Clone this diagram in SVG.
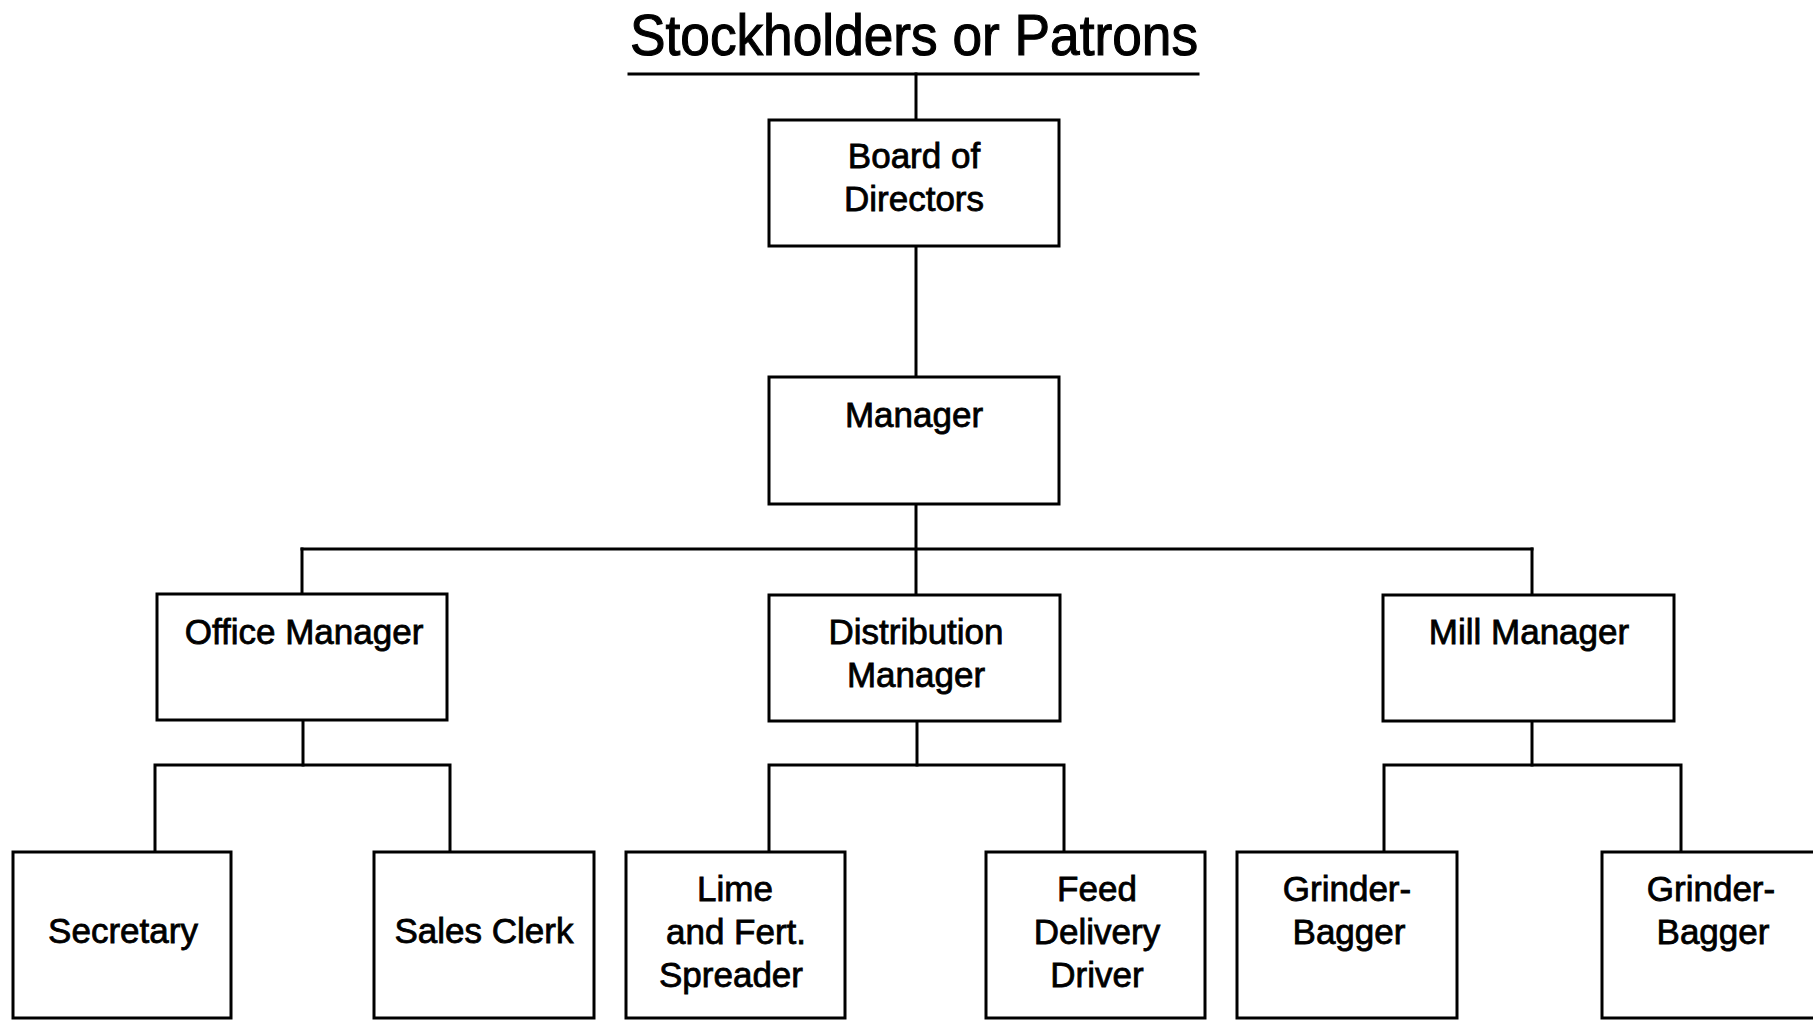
<svg xmlns="http://www.w3.org/2000/svg" width="1813" height="1020" viewBox="0 0 1813 1020">
<style>
.box{fill:#fff;stroke:#000;stroke-width:3}
.ln{fill:none;stroke:#000;stroke-width:3;stroke-linecap:square}
.t{font-family:"Liberation Sans",Arial,sans-serif;font-size:35px;fill:#000;stroke:#000;stroke-width:0.8;text-anchor:middle}
.title{font-family:"Liberation Sans",Arial,sans-serif;font-size:58px;fill:#000;stroke:#000;stroke-width:1.1}
</style>
<rect width="1813" height="1020" fill="#fff"/>
<g id="connectors">
<line class="ln" x1="629" y1="74" x2="1198" y2="74"/>
<line class="ln" x1="916" y1="74" x2="916" y2="120"/>
<line class="ln" x1="916" y1="246" x2="916" y2="377"/>
<line class="ln" x1="916" y1="504" x2="916" y2="595"/>
<line class="ln" x1="302" y1="549" x2="1532" y2="549"/>
<line class="ln" x1="302" y1="549" x2="302" y2="594"/>
<line class="ln" x1="1532" y1="549" x2="1532" y2="595"/>
<polyline class="ln" points="303,720 303,765"/>
<polyline class="ln" points="155,852 155,765 450,765 450,852"/>
<polyline class="ln" points="917,721 917,765"/>
<polyline class="ln" points="769,852 769,765 1064,765 1064,852"/>
<polyline class="ln" points="1532,721 1532,765"/>
<polyline class="ln" points="1384,852 1384,765 1681,765 1681,852"/>
</g>
<g id="title">
<text class="title" x="630" y="55" textLength="568" lengthAdjust="spacingAndGlyphs">Stockholders or Patrons</text>
</g>
<g id="board">
<rect class="box" x="769" y="120" width="290" height="126"/>
<text class="t" x="914" y="168">Board of</text>
<text class="t" x="914" y="211">Directors</text>
</g>
<g id="manager">
<rect class="box" x="769" y="377" width="290" height="127"/>
<text class="t" x="914" y="427">Manager</text>
</g>
<g id="office-manager">
<rect class="box" x="157" y="594" width="290" height="126"/>
<text class="t" x="304" y="644">Office Manager</text>
</g>
<g id="distribution-manager">
<rect class="box" x="769" y="595" width="291" height="126"/>
<text class="t" x="916" y="644">Distribution</text>
<text class="t" x="916" y="687">Manager</text>
</g>
<g id="mill-manager">
<rect class="box" x="1383" y="595" width="291" height="126"/>
<text class="t" x="1529" y="644">Mill Manager</text>
</g>
<g id="secretary">
<rect class="box" x="13" y="852" width="218" height="166"/>
<text class="t" x="123" y="943">Secretary</text>
</g>
<g id="sales-clerk">
<rect class="box" x="374" y="852" width="220" height="166"/>
<text class="t" x="484" y="943">Sales Clerk</text>
</g>
<g id="lime-spreader">
<rect class="box" x="626" y="852" width="219" height="166"/>
<text class="t" x="735" y="901">Lime</text>
<text class="t" x="736" y="944">and Fert.</text>
<text class="t" x="731" y="987">Spreader</text>
</g>
<g id="feed-driver">
<rect class="box" x="986" y="852" width="219" height="166"/>
<text class="t" x="1097" y="901">Feed</text>
<text class="t" x="1097" y="944">Delivery</text>
<text class="t" x="1097" y="987">Driver</text>
</g>
<g id="grinder-bagger-1">
<rect class="box" x="1237" y="852" width="220" height="166"/>
<text class="t" x="1347" y="901">Grinder-</text>
<text class="t" x="1349" y="944">Bagger</text>
</g>
<g id="grinder-bagger-2">
<rect class="box" x="1602" y="852" width="220" height="166"/>
<text class="t" x="1711" y="901">Grinder-</text>
<text class="t" x="1713" y="944">Bagger</text>
</g>
</svg>
